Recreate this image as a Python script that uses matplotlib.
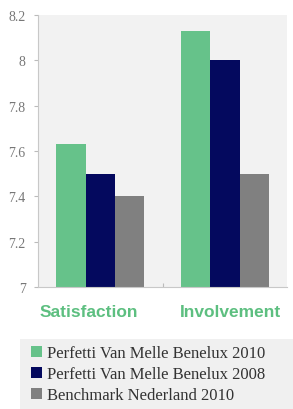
import numpy as np
import matplotlib.pyplot as plt
from matplotlib.patches import Patch, Rectangle

categories = ['Satisfaction', 'Involvement']
series_names = ['Perfetti Van Melle Benelux 2010',
                'Perfetti Van Melle Benelux 2008',
                'Benchmark Nederland 2010']
pvm_2010 = [7.63, 8.13]
pvm_2008 = [7.50, 8.00]
benchmark_2010 = [7.40, 7.50]
yticks = [7, 7.2, 7.4, 7.6, 7.8, 8, 8.2]
ytick_labels = ['7', '7.2', '7.4', '7.6', '7.8', '8', '8.2']

colors = ['#66c28a', '#04095e', '#808080']
label_green = '#5dbf80'

fig = plt.figure(figsize=(2.93, 4.10), dpi=100)
ax = fig.add_axes([0.130, 0.2976, 0.850, 0.6634])
ax.set_facecolor('#f2f2f2')

x = np.arange(len(categories))
w = 0.235
for i, vals in enumerate([pvm_2010, pvm_2008, benchmark_2010]):
    ax.bar(x + (i - 1) * w, np.array(vals) - 7, width=w, bottom=7,
           color=colors[i], zorder=2)

ax.set_xlim(-0.5, 1.5)
ax.set_ylim(7, 8.2)
ax.set_yticks(yticks)
ax.set_yticklabels(ytick_labels, family='Liberation Serif', fontsize=10,
                   color='#777777')
ax.set_xticks([0.5])
ax.set_xticklabels([''])
ax.tick_params(axis='y', length=3, color='#bbbbbb', pad=6)
ax.tick_params(axis='x', length=3, color='#bbbbbb', direction='in')
for s in ['top', 'right']:
    ax.spines[s].set_visible(False)
for s in ['left', 'bottom']:
    ax.spines[s].set_color('#c8c8c8')
    ax.spines[s].set_linewidth(0.8)

# category labels sit a bit off the group centres in the original
label_x = [-0.096, 1.044]
for xi, name in zip(label_x, categories):
    ax.text(xi, 6.89, name, ha='center', va='center',
            family='Liberation Sans', fontweight='bold', fontsize=12.5,
            color=label_green)

# grey panel behind the legend
fig.patches.append(Rectangle((0.068, 0.0), 0.932, 0.171,
                             transform=fig.transFigure,
                             facecolor='#f0f0f0', edgecolor='none',
                             zorder=0))

handles = [Patch(facecolor=c, edgecolor='none') for c in colors]
leg = fig.legend(handles, series_names, loc='lower left',
                 bbox_to_anchor=(0.085, 0.0),
                 prop={'family': 'Liberation Serif', 'size': 12},
                 frameon=False, handlelength=0.7,
                 handleheight=0.7, handletextpad=0.3, labelspacing=0.3,
                 borderpad=0.35, borderaxespad=0.0)
for t in leg.get_texts():
    t.set_color('#333333')

fig.savefig('out.png', dpi=100)
